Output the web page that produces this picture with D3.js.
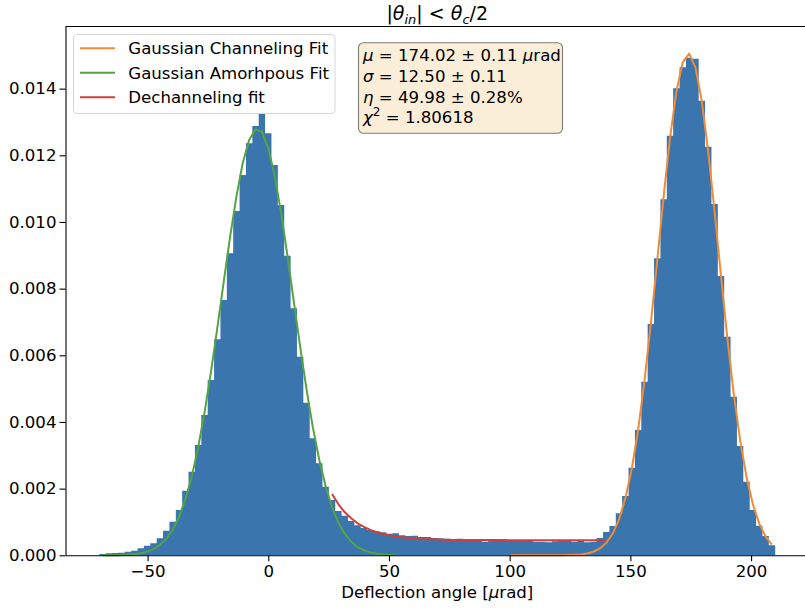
<!DOCTYPE html>
<html>
<head>
<meta charset="utf-8">
<script src="https://cdn.jsdelivr.net/npm/d3@7"></script>
<style>
  body { margin: 0; background: #fff; }
  svg { display: block; font-family: "DejaVu Sans", sans-serif; }
</style>
</head>
<body>
<svg id="chart" width="805" height="610"></svg>
<script>
// histogram: 106 bins from -70 to 210 urad
const binStart = -70;
const binEnd = 210;

const density = [
  0.00004, 0.00006, 0.00007, 0.00008, 0.00011, 0.00014, 0.00021, 0.00029, 0.00036, 0.00051,
  0.00074, 0.00101, 0.00136, 0.00194, 0.00251, 0.00331, 0.00421, 0.00526, 0.00648, 0.00766,
  0.00906, 0.01033, 0.01141, 0.01236, 0.01288, 0.01326, 0.01266, 0.01171, 0.01051, 0.00899,
  0.00741, 0.00596, 0.00458, 0.00351, 0.00276, 0.00206, 0.00166, 0.00133, 0.00119, 0.00103,
  0.00090, 0.00082, 0.00076, 0.00072, 0.00069, 0.00065, 0.00066, 0.00060, 0.00058, 0.00059,
  0.00055, 0.00055, 0.00052, 0.00051, 0.00050, 0.00048, 0.00050, 0.00047, 0.00046, 0.00046,
  0.00041, 0.00045, 0.00044, 0.00045, 0.00044, 0.00043, 0.00044, 0.00043, 0.00041, 0.00041,
  0.00039, 0.00042, 0.00043, 0.00043, 0.00041, 0.00043, 0.00039, 0.00041, 0.00052, 0.00070,
  0.00088, 0.00126, 0.00178, 0.00263, 0.00376, 0.00521, 0.00694, 0.00891, 0.01068, 0.01259,
  0.01401, 0.01464, 0.01493, 0.01490, 0.01364, 0.01226, 0.01054, 0.00838, 0.00656, 0.00476,
  0.00328, 0.00221, 0.00136, 0.00089, 0.00058, 0.00030
];

// fit curves, sampled at bin centres (first bin index given)
const channelingStart = 64;
const channelingFit = [
  0, 0, 0, 0, 0, 0, 0.000001, 0.000002, 0.000004, 0.000008,
  0.000014, 0.000026, 0.000054, 0.000107, 0.000204, 0.000372, 0.000645, 0.00107, 0.00171, 0.00259,
  0.00376, 0.00523, 0.00696, 0.00885, 0.01076, 0.01251, 0.01391, 0.01479, 0.01505, 0.01463,
  0.01361, 0.01210, 0.01030, 0.00838, 0.00651, 0.00484, 0.00345, 0.00235, 0.00153, 0.00095,
  0.00056, 0.00032
];

const amorphousStart = 0;
const amorphousFit = [
  0.000001, 0.000002, 0.000005, 0.000009, 0.000018, 0.000034, 0.000062, 0.000109, 0.000186, 0.000308,
  0.000494, 0.000766, 0.00115, 0.00168, 0.00236, 0.00323, 0.00428, 0.00548, 0.00681, 0.00819,
  0.00954, 0.01076, 0.01177, 0.01246, 0.01278, 0.01270, 0.01222, 0.01139, 0.01029, 0.00900,
  0.00762, 0.00626, 0.00498, 0.00383, 0.00286, 0.00207, 0.00144, 0.00098, 0.00064, 0.00041,
  0.00025, 0.00015, 0.000087, 0.000049, 0.000026, 0.000014, 0.000007
];

const dechannelingStart = 36;
const dechannelingFit = [
  0.00184, 0.00153, 0.00129, 0.00111, 0.00096, 0.00085, 0.00076, 0.00069, 0.00064, 0.00060,
  0.00056, 0.00054, 0.00052, 0.00050, 0.00049, 0.00048, 0.00048, 0.00047, 0.00047, 0.00046,
  0.00046, 0.00046, 0.00046, 0.00046, 0.00046, 0.00046, 0.00046, 0.00046,
  0.00045, 0.00045, 0.00045, 0.00045, 0.00045, 0.00045, 0.00045, 0.00045,
  0.00045, 0.00045, 0.00045, 0.00045, 0.00045, 0.00045, 0.00045, 0.00045
];

const xTicks = [-50, 0, 50, 100, 150, 200];
const yTicks = [0, 0.002, 0.004, 0.006, 0.008, 0.010, 0.012, 0.014];

const legendLabels = ["Gaussian Channeling Fit", "Gaussian Amorhpous Fit", "Dechanneling fit"];
const colors = { bar: "#3a75ae", orange: "#f28a36", green: "#55a343", red: "#d23f3a" };

const svg = d3.select("#chart");
const fs = 16.6;
const plot = { left: 65.5, right: 809, top: 26.5, bottom: 555.3 };

const x = d3.scaleLinear().domain([-84, 224]).range([plot.left, plot.right]);
const y = d3.scaleLinear().domain([0, 0.015864]).range([plot.bottom, plot.top]);

const nBins = density.length;
const binW = (binEnd - binStart) / nBins;
const center = i => binStart + binW * (i + 0.5);

// bars, drawn as one stepped shape so neighbouring bins do not show seams
const steps = density.map((d, i) => [binStart + i * binW, d]);
steps.push([binEnd, density[nBins - 1]]);
const histArea = d3.area()
  .curve(d3.curveStepAfter)
  .x(d => x(d[0]))
  .y0(y(0))
  .y1(d => y(d[1]));
svg.append("path")
  .datum(steps)
  .attr("d", histArea)
  .attr("fill", colors.bar);

// fit lines
const line = d3.line().x(d => x(d[0])).y(d => y(d[1]));
function drawFit(vals, start, color) {
  const pts = vals.map((v, k) => [center(start + k), v]);
  svg.append("path").datum(pts)
    .attr("d", line)
    .attr("fill", "none")
    .attr("stroke", color)
    .attr("stroke-width", 2)
    .attr("stroke-linejoin", "round");
}
drawFit(channelingFit, channelingStart, colors.orange);
drawFit(amorphousFit, amorphousStart, colors.green);
drawFit(dechannelingFit, dechannelingStart, colors.red);

// axes
const fmtX = d => (d < 0 ? "\u2212" + Math.abs(d) : "" + d);
const gx = svg.append("g")
  .attr("transform", `translate(0,${plot.bottom})`)
  .call(d3.axisBottom(x).tickValues(xTicks).tickFormat(fmtX).tickSize(6).tickSizeOuter(0).tickPadding(4));
const gy = svg.append("g")
  .attr("transform", `translate(${plot.left},0)`)
  .call(d3.axisLeft(y).tickValues(yTicks).tickFormat(d3.format(".3f")).tickSize(6).tickSizeOuter(0).tickPadding(3));
[gx, gy].forEach(g => {
  g.selectAll("text").attr("font-size", fs).attr("font-family", "DejaVu Sans").attr("fill", "#000");
  g.selectAll("line").attr("stroke", "#000").attr("stroke-width", 1.1);
  g.select(".domain").attr("stroke", "#000").attr("stroke-width", 1.1);
});
gx.selectAll("text").attr("dy", "0.72em");
svg.append("line")
  .attr("x1", plot.left).attr("x2", plot.right)
  .attr("y1", plot.top).attr("y2", plot.top)
  .attr("stroke", "#000").attr("stroke-width", 1.1);

// axis label
svg.append("text")
  .attr("x", (plot.left + plot.right) / 2).attr("y", 598)
  .attr("text-anchor", "middle").attr("font-size", fs)
  .html('Deflection angle [<tspan font-style="italic">\u03bc</tspan>rad]');

// title
svg.append("text")
  .attr("x", (plot.left + plot.right) / 2).attr("y", 19.5)
  .attr("text-anchor", "middle").attr("font-size", 19)
  .html('|<tspan font-style="italic">\u03b8</tspan><tspan font-style="italic" font-size="13" dy="4">in</tspan><tspan dy="-4">| &lt; </tspan><tspan font-style="italic">\u03b8</tspan><tspan font-style="italic" font-size="13" dy="4">c</tspan><tspan dy="-4">/2</tspan>');

// legend
const lg = svg.append("g");
lg.append("rect")
  .attr("x", 73.5).attr("y", 34.5).attr("width", 261.5).attr("height", 79)
  .attr("rx", 3.5)
  .attr("fill", "#fff").attr("fill-opacity", 0.8)
  .attr("stroke", "#d6d6d6").attr("stroke-width", 1);
[colors.orange, colors.green, colors.red].forEach((c, i) => {
  const cy = 48.3 + i * 24.5;
  lg.append("line").attr("x1", 80).attr("x2", 115).attr("y1", cy).attr("y2", cy)
    .attr("stroke", c).attr("stroke-width", 2);
  lg.append("text").attr("x", 128.3).attr("y", cy + 6)
    .attr("font-size", fs).text(legendLabels[i]);
});

// fit results box
const tb = svg.append("g");
tb.append("rect")
  .attr("x", 358.5).attr("y", 42.7).attr("width", 204).attr("height", 90.6)
  .attr("rx", 5)
  .attr("fill", "#f5deb3").attr("fill-opacity", 0.5)
  .attr("stroke", "#000").attr("stroke-opacity", 0.5).attr("stroke-width", 1.1);
const boxLines = [
  '<tspan font-style="italic">\u03bc</tspan> = 174.02 \u00b1 0.11 <tspan font-style="italic">\u03bc</tspan>rad',
  '<tspan font-style="italic">\u03c3</tspan> = 12.50 \u00b1 0.11',
  '<tspan font-style="italic">\u03b7</tspan> = 49.98 \u00b1 0.28%',
  '<tspan font-style="italic">\u03c7</tspan><tspan font-size="12" dy="-7">2</tspan><tspan dy="7"> = 1.80618</tspan>'
];
boxLines.forEach((s, i) => {
  tb.append("text").attr("x", 363).attr("y", 61 + i * 20.8)
    .attr("font-size", fs).html(s);
});
</script>
</body>
</html>
